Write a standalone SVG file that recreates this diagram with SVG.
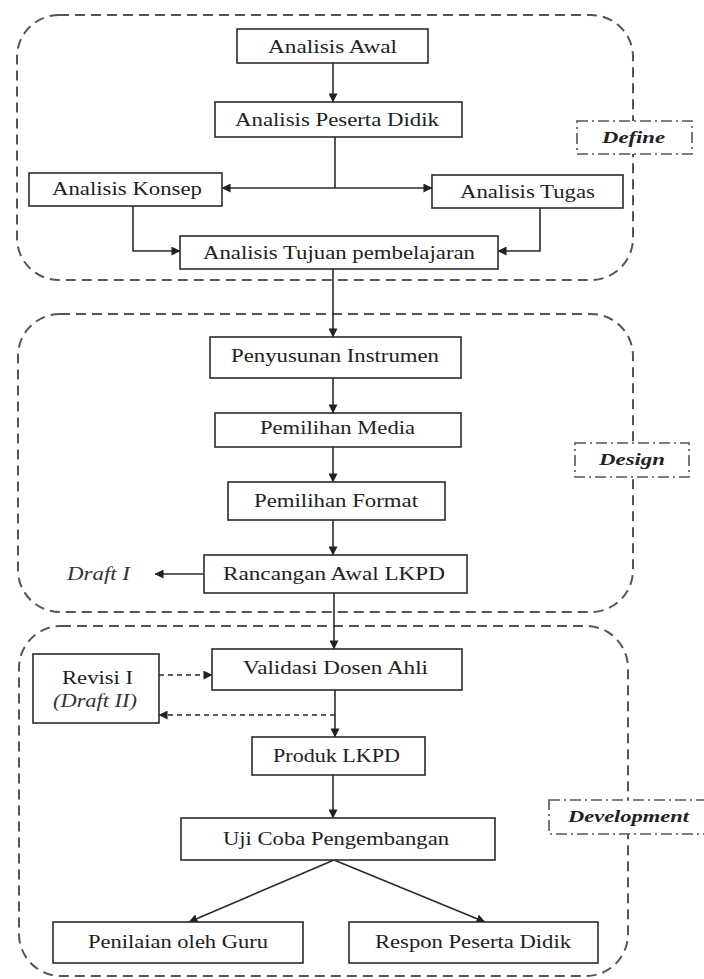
<svg xmlns="http://www.w3.org/2000/svg" width="704" height="979" viewBox="0 0 704 979">
<style>
.bg{fill:#ffffff}
.box{fill:#ffffff;stroke:#2b2b2b;stroke-width:1.6}
.cont{fill:none;stroke:#555555;stroke-width:2;stroke-dasharray:10,6}
.lab{fill:#ffffff;stroke:#555555;stroke-width:1.6;stroke-dasharray:11,4,2,4}
.t{font-family:"Liberation Serif","Times New Roman",serif;font-size:18px;fill:#222222}
.ti{font-family:"Liberation Serif","Times New Roman",serif;font-size:18px;font-style:italic;fill:#333333}
.tl{font-family:"Liberation Serif","Times New Roman",serif;font-size:17px;font-style:italic;font-weight:bold;fill:#222222}
.ln{fill:none;stroke:#2b2b2b;stroke-width:1.6}
.dl{fill:none;stroke:#2b2b2b;stroke-width:1.6;stroke-dasharray:5,4}
</style>
<defs>
<marker id="ah" viewBox="0 0 10 10" refX="9.5" refY="5" markerWidth="9" markerHeight="9" markerUnits="userSpaceOnUse" orient="auto">
<path d="M0,0 L10,5 L0,10 z" fill="#222222"/>
</marker>
</defs>
<rect class="bg" x="0" y="0" width="704" height="979"/>

<g id="containers">
<rect id="define-area" class="cont" x="17" y="15" width="616" height="265" rx="42" ry="42"/>
<rect id="design-area" class="cont" x="18" y="314" width="615" height="298" rx="42" ry="42"/>
<rect id="development-area" class="cont" x="19" y="626" width="609" height="350" rx="42" ry="42"/>
</g>

<g id="labels">
<g id="label-define"><rect class="lab" x="577" y="121" width="115" height="33"/><text class="tl" x="602" y="143" textLength="63" lengthAdjust="spacingAndGlyphs">Define</text></g>
<g id="label-design"><rect class="lab" x="575" y="443" width="114" height="34"/><text class="tl" x="599" y="465" textLength="66" lengthAdjust="spacingAndGlyphs">Design</text></g>
<g id="label-development"><rect class="lab" x="549" y="800" width="160" height="34"/><text class="tl" x="568" y="822" textLength="121" lengthAdjust="spacingAndGlyphs">Development</text></g>
</g>

<g id="connectors">
<line class="ln" x1="333" y1="63" x2="333" y2="102" marker-end="url(#ah)"/>
<polyline class="ln" points="335,137 335,188"/>
<line class="ln" x1="335" y1="188" x2="222" y2="188" marker-end="url(#ah)"/>
<line class="ln" x1="335" y1="188" x2="432" y2="188" marker-end="url(#ah)"/>
<polyline class="ln" points="133,206 133,251 180,251" marker-end="url(#ah)"/>
<polyline class="ln" points="540,208 540,251 498,251" marker-end="url(#ah)"/>
<line class="ln" x1="333" y1="269" x2="333" y2="337" marker-end="url(#ah)"/>
<line class="ln" x1="333" y1="378" x2="333" y2="413" marker-end="url(#ah)"/>
<line class="ln" x1="333" y1="447" x2="333" y2="482" marker-end="url(#ah)"/>
<line class="ln" x1="333" y1="520" x2="333" y2="555" marker-end="url(#ah)"/>
<line class="ln" x1="204" y1="574" x2="155" y2="574" marker-end="url(#ah)"/>
<line class="ln" x1="334" y1="593" x2="334" y2="649" marker-end="url(#ah)"/>
<line class="dl" x1="159" y1="675" x2="212" y2="675" marker-end="url(#ah)"/>
<line class="dl" x1="335" y1="715" x2="159" y2="715" marker-end="url(#ah)"/>
<line class="ln" x1="335" y1="690" x2="335" y2="737" marker-end="url(#ah)"/>
<line class="ln" x1="333" y1="775" x2="333" y2="818" marker-end="url(#ah)"/>
<line class="ln" x1="334" y1="860" x2="189" y2="922" marker-end="url(#ah)"/>
<line class="ln" x1="334" y1="860" x2="485" y2="922" marker-end="url(#ah)"/>
</g>

<g id="n-analisis-awal"><rect class="box" x="237" y="29" width="191" height="34"/><text class="t" x="268" y="53" textLength="129" lengthAdjust="spacingAndGlyphs">Analisis Awal</text></g>
<g id="n-analisis-peserta"><rect class="box" x="215" y="102" width="247" height="35"/><text class="t" x="235" y="126" textLength="204" lengthAdjust="spacingAndGlyphs">Analisis Peserta Didik</text></g>
<g id="n-analisis-konsep"><rect class="box" x="29" y="173" width="193" height="33"/><text class="t" x="52" y="195" textLength="150" lengthAdjust="spacingAndGlyphs">Analisis Konsep</text></g>
<g id="n-analisis-tugas"><rect class="box" x="432" y="175" width="191" height="33"/><text class="t" x="460" y="198" textLength="135" lengthAdjust="spacingAndGlyphs">Analisis Tugas</text></g>
<g id="n-analisis-tujuan"><rect class="box" x="180" y="236" width="318" height="33"/><text class="t" x="203" y="259" textLength="272" lengthAdjust="spacingAndGlyphs">Analisis Tujuan pembelajaran</text></g>

<g id="n-penyusunan"><rect class="box" x="210" y="337" width="251" height="41"/><text class="t" x="231" y="362" textLength="208" lengthAdjust="spacingAndGlyphs">Penyusunan Instrumen</text></g>
<g id="n-media"><rect class="box" x="215" y="413" width="246" height="34"/><text class="t" x="260" y="434" textLength="155" lengthAdjust="spacingAndGlyphs">Pemilihan Media</text></g>
<g id="n-format"><rect class="box" x="228" y="482" width="217" height="38"/><text class="t" x="254" y="507" textLength="164" lengthAdjust="spacingAndGlyphs">Pemilihan Format</text></g>
<g id="n-rancangan"><rect class="box" x="204" y="555" width="263" height="38"/><text class="t" x="223" y="580" textLength="222" lengthAdjust="spacingAndGlyphs">Rancangan Awal LKPD</text></g>
<g id="n-draft1"><text class="ti" x="67" y="580" textLength="63" lengthAdjust="spacingAndGlyphs">Draft I</text></g>

<g id="n-validasi"><rect class="box" x="212" y="649" width="250" height="41"/><text class="t" x="243" y="674" textLength="185" lengthAdjust="spacingAndGlyphs">Validasi Dosen Ahli</text></g>
<g id="n-revisi"><rect class="box" x="33" y="654" width="126" height="69"/><text class="t" x="62" y="684" textLength="71" lengthAdjust="spacingAndGlyphs">Revisi I</text><text class="ti" x="53" y="707" textLength="84" lengthAdjust="spacingAndGlyphs">(Draft II)</text></g>
<g id="n-produk"><rect class="box" x="252" y="737" width="173" height="38"/><text class="t" x="273" y="762" textLength="127" lengthAdjust="spacingAndGlyphs">Produk LKPD</text></g>
<g id="n-ujicoba"><rect class="box" x="181" y="818" width="314" height="42"/><text class="t" x="223" y="845" textLength="226" lengthAdjust="spacingAndGlyphs">Uji Coba Pengembangan</text></g>
<g id="n-penilaian"><rect class="box" x="53" y="922" width="250" height="41"/><text class="t" x="88" y="948" textLength="180" lengthAdjust="spacingAndGlyphs">Penilaian oleh Guru</text></g>
<g id="n-respon"><rect class="box" x="349" y="922" width="249" height="41"/><text class="t" x="375" y="948" textLength="196" lengthAdjust="spacingAndGlyphs">Respon Peserta Didik</text></g>
</svg>
